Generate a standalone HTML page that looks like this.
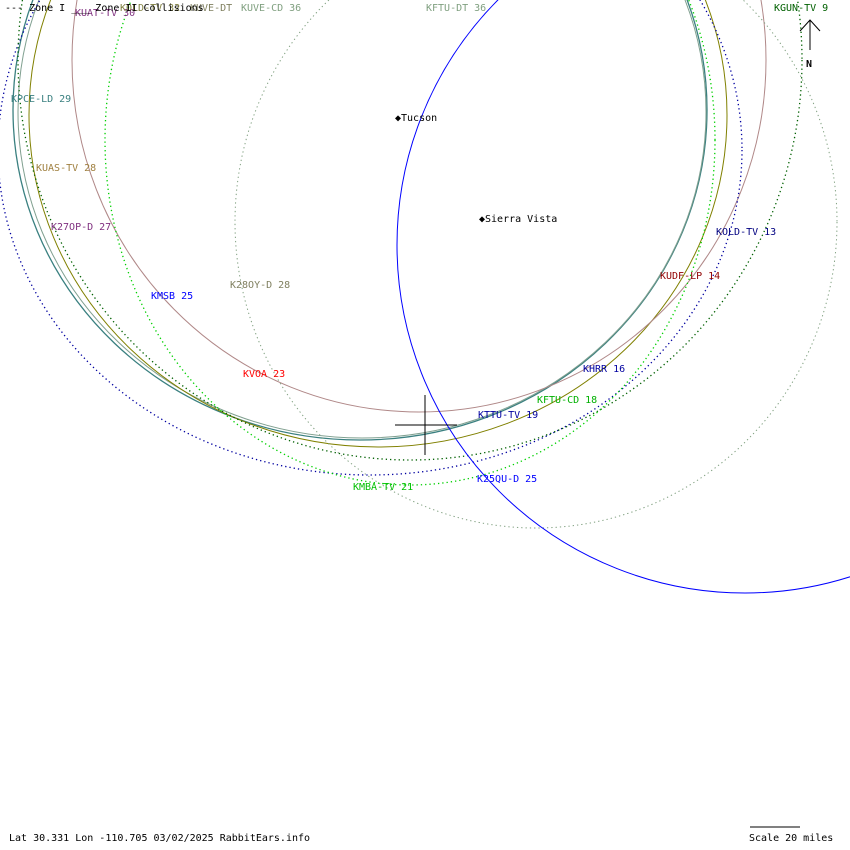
<!DOCTYPE html>
<html><head><meta charset="utf-8"><style>
body{margin:0;background:#fff}
svg{display:block}
text{font-family:"DejaVu Sans Mono","Liberation Mono",monospace;font-size:10px}
</style></head><body>
<svg width="850" height="850" viewBox="0 0 850 850" xmlns="http://www.w3.org/2000/svg">
<g fill="none">
<ellipse cx="360" cy="110" rx="347" ry="330" stroke="#3a8080" stroke-width="1.3"/>
<ellipse cx="362" cy="112" rx="344" ry="326" stroke="#80a090" stroke-width="1"/>
<ellipse cx="378" cy="115" rx="349" ry="332" stroke="#808000" stroke-width="1"/>
<ellipse cx="419" cy="60" rx="347" ry="352" stroke="#b08888" stroke-width="1"/>
<ellipse cx="370" cy="150" rx="372" ry="325" stroke="#0000a0" stroke-width="1.3" stroke-dasharray="1.3 3"/>
<ellipse cx="410" cy="60" rx="392" ry="400" stroke="#006000" stroke-width="1.3" stroke-dasharray="1.3 3"/>
<ellipse cx="410" cy="140" rx="305" ry="345" stroke="#00d000" stroke-width="1.3" stroke-dasharray="1.3 3"/>
<ellipse cx="536" cy="222" rx="301" ry="306" stroke="#80a080" stroke-width="1" stroke-dasharray="1.3 3"/>
<circle cx="745" cy="245" r="348" stroke="#0000ff" stroke-width="1"/>
</g>
<line x1="395" y1="425" x2="457" y2="425" stroke="#000"/>
<line x1="425" y1="395" x2="425" y2="455" stroke="#000"/>
<line x1="810" y1="50" x2="810" y2="20" stroke="#000"/>
<polyline points="800,31 810,20 820,31" fill="none" stroke="#000"/>
<text x="806" y="67" font-weight="bold" font-size="12">N</text>
<text x="395" y="121" font-size="11">◆Tucson</text>
<text x="479" y="222" font-size="11">◆Sierra Vista</text>
<text x="75" y="16" fill="#803080">KUAT-TV 30</text>
<text x="120" y="11" fill="#808040">KOLD-TV 32</text>
<text x="190" y="11" fill="#808060">KUVE-DT</text>
<text x="241" y="11" fill="#80a080">KUVE-CD 36</text>
<text x="5" y="11" fill="#000">--- Zone I  ___ Zone II Collisions</text>
<text x="426" y="11" fill="#80a080">KFTU-DT 36</text>
<text x="774" y="11" fill="#006000">KGUN-TV 9</text>
<text x="11" y="102" fill="#3a8080">KPCE-LD 29</text>
<text x="36" y="171" fill="#a08040">KUAS-TV 28</text>
<text x="51" y="230" fill="#803080">K27OP-D 27</text>
<text x="716" y="235" fill="#000080">KOLD-TV 13</text>
<text x="660" y="279" fill="#900000">KUDF-LP 14</text>
<text x="230" y="288" fill="#808060">K28OY-D 28</text>
<text x="151" y="299" fill="#0000ff">KMSB 25</text>
<text x="243" y="377" fill="#ff0000">KVOA 23</text>
<text x="583" y="372" fill="#0000a0">KHRR 16</text>
<text x="537" y="403" fill="#00b000">KFTU-CD 18</text>
<text x="478" y="418" fill="#0000a0">KTTU-TV 19</text>
<text x="477" y="482" fill="#0000ff">K25QU-D 25</text>
<text x="353" y="490" fill="#00c000">KMBA-TV 21</text>
<text x="9" y="841" fill="#000">Lat 30.331 Lon -110.705 03/02/2025 RabbitEars.info</text>
<line x1="750" y1="827" x2="800" y2="827" stroke="#000"/>
<text x="749" y="841" fill="#000">Scale 20 miles</text>
</svg>
</body></html>
